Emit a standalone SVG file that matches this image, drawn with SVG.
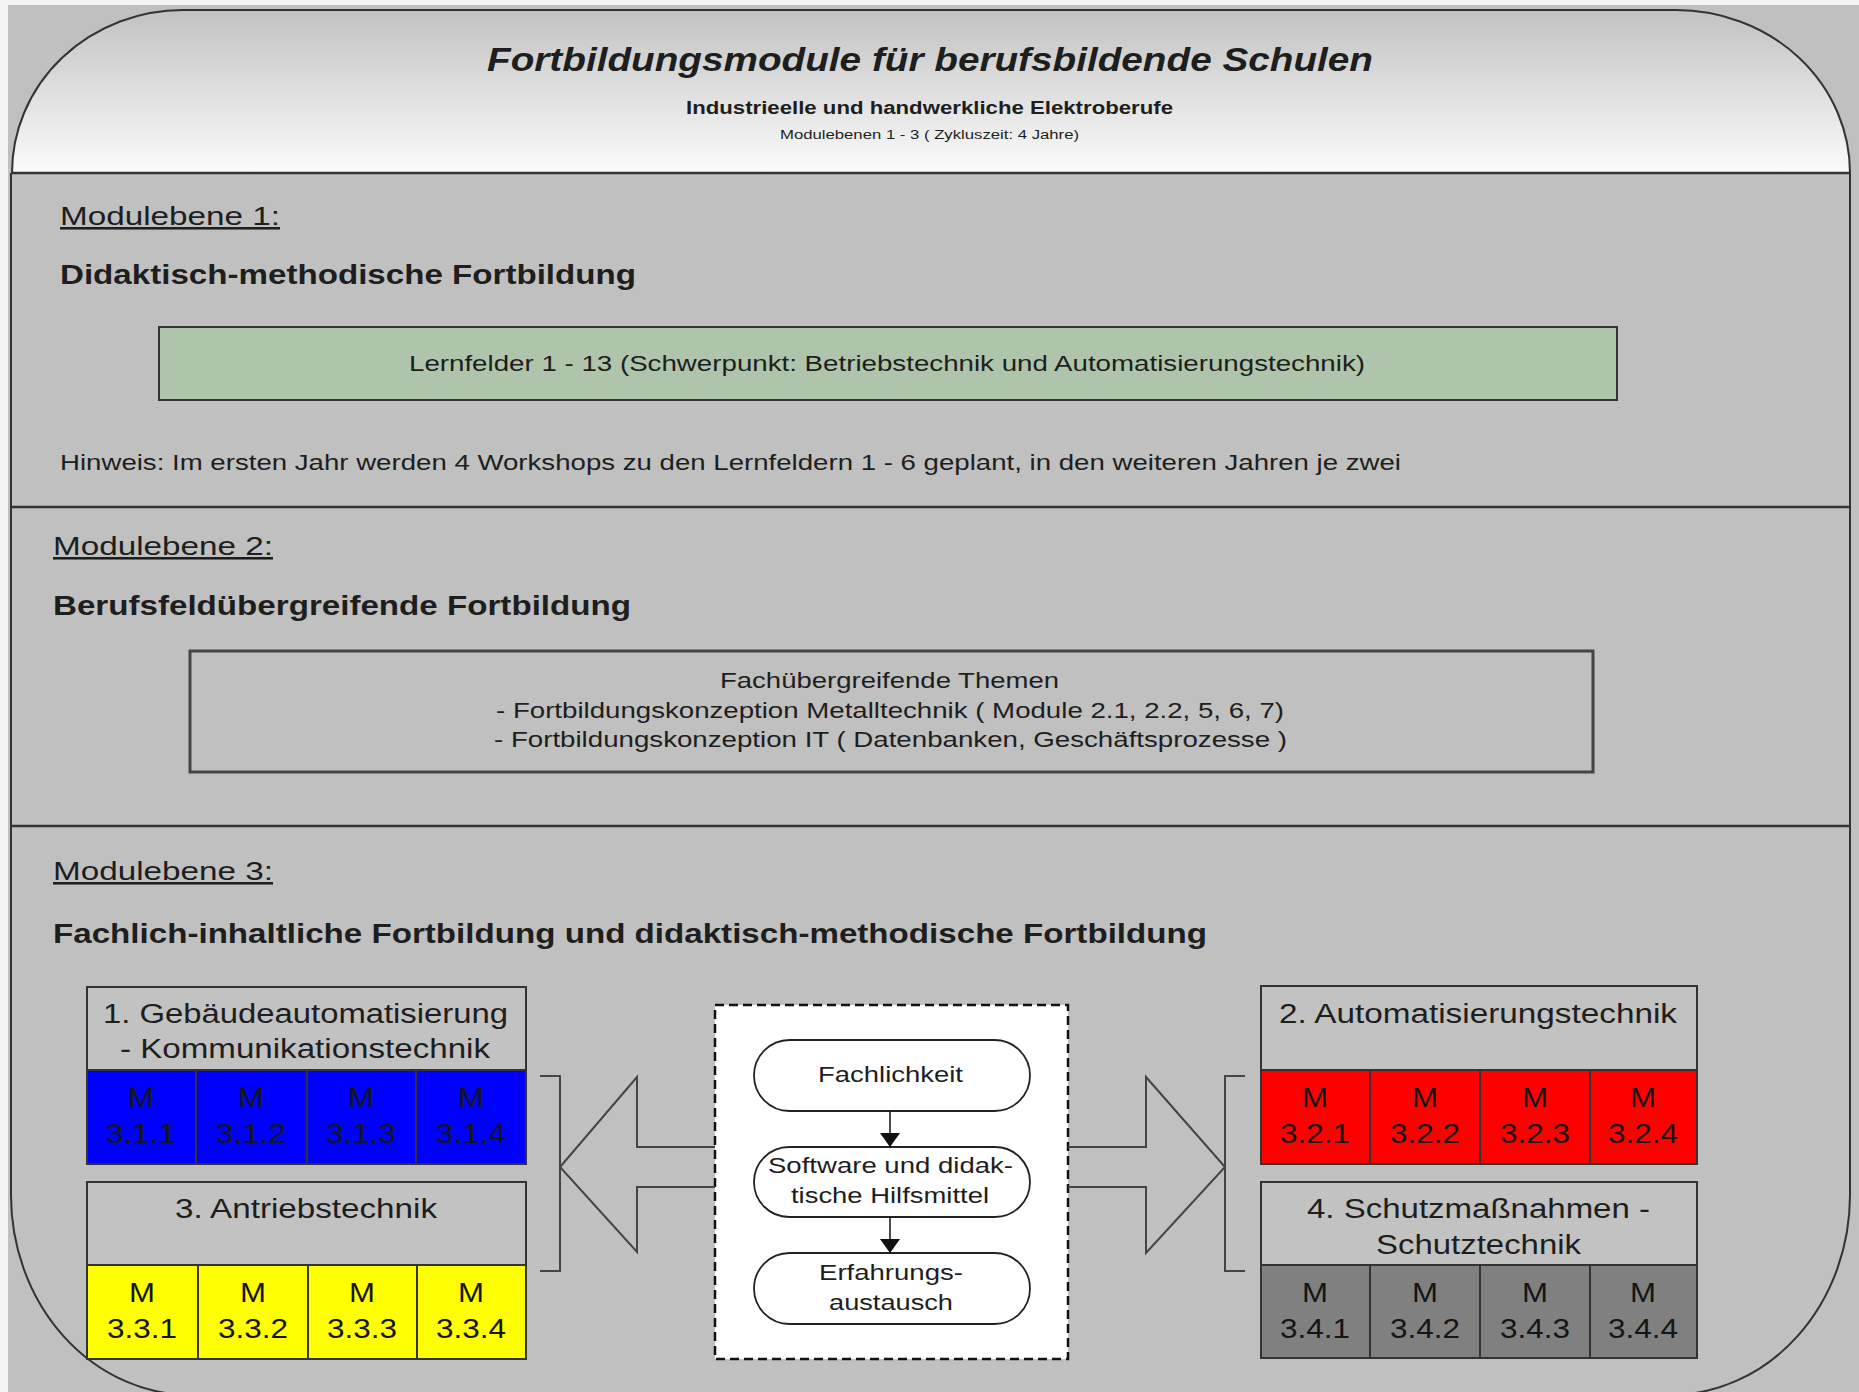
<svg xmlns="http://www.w3.org/2000/svg" width="1859" height="1392" viewBox="0 0 1859 1392">
<defs>
<linearGradient id="hdr" x1="0" y1="0" x2="0" y2="1">
<stop offset="0" stop-color="#c2c2c2"/>
<stop offset="1" stop-color="#fbfbfb"/>
</linearGradient>
<marker id="ah" viewBox="0 0 20 14" refX="20" refY="7" markerWidth="14" markerHeight="20" markerUnits="userSpaceOnUse" orient="auto" preserveAspectRatio="none">
<path d="M0,0 L20,7 L0,14 Z" fill="#111"/>
</marker>
<style>
.t{font-family:"Liberation Sans",Arial,sans-serif;fill:#1e1e1e}
.b{font-weight:bold}
.lbl{font-size:25.5px;text-decoration:underline}
.h{font-size:27px;font-weight:bold}
.cell{font-size:27px;fill:#151515}
.bx{stroke:#333;stroke-width:2}
.div{stroke:#333;stroke-width:2.5}
.arr{fill:none;stroke:#444;stroke-width:2}
.term{fill:#fff;stroke:#222;stroke-width:1.8}
.tt{font-size:21.5px}
</style>
</defs>
<rect x="0" y="0" width="1859" height="1392" fill="#f4f4f4"/>
<rect x="8" y="5" width="1851" height="1387" fill="#c0c0c0"/>

<g id="frame">
<path d="M11,173 V1195 A180,200 0 0 0 191,1395 H1670 A180,200 0 0 0 1850,1195 V173" fill="none" stroke="#333" stroke-width="2"/>
<path d="M12,173 A171,163 0 0 1 183,10 H1676 A174,163 0 0 1 1850,173 Z" fill="url(#hdr)" stroke="#333" stroke-width="2"/>
<line class="div" x1="11" y1="173" x2="1850" y2="173" stroke-width="3"/>
<line class="div" x1="11" y1="507" x2="1850" y2="507"/>
<line class="div" x1="11" y1="826" x2="1850" y2="826"/>
</g>

<g id="header">
<text class="t b" x="487" y="71" font-size="34" font-style="italic" fill="#111" textLength="886" lengthAdjust="spacingAndGlyphs">Fortbildungsmodule für berufsbildende Schulen</text>
<text class="t b" x="686" y="114" font-size="18" textLength="487" lengthAdjust="spacingAndGlyphs">Industrieelle und handwerkliche Elektroberufe</text>
<text class="t" x="780" y="139" font-size="12" fill="#333" textLength="299" lengthAdjust="spacingAndGlyphs">Modulebenen 1 - 3 ( Zykluszeit: 4 Jahre)</text>
</g>

<g id="ebene1">
<text class="t lbl" x="60" y="225" textLength="220" lengthAdjust="spacingAndGlyphs">Modulebene 1:</text>
<text class="t h" x="60" y="284" textLength="576" lengthAdjust="spacingAndGlyphs">Didaktisch-methodische Fortbildung</text>
<g id="lernfelder">
<rect x="159" y="327" width="1458" height="73" fill="#aec5ab" class="bx"/>
<text class="t" x="409" y="371" font-size="22" textLength="956" lengthAdjust="spacingAndGlyphs">Lernfelder 1 - 13 (Schwerpunkt: Betriebstechnik und Automatisierungstechnik)</text>
</g>
<text class="t" x="60" y="470" font-size="22.5" textLength="1341" lengthAdjust="spacingAndGlyphs">Hinweis: Im ersten Jahr werden 4 Workshops zu den Lernfeldern 1 - 6 geplant, in den weiteren Jahren je zwei</text>
</g>

<g id="ebene2">
<text class="t lbl" x="53" y="555" textLength="220" lengthAdjust="spacingAndGlyphs">Modulebene 2:</text>
<text class="t h" x="53" y="615" textLength="578" lengthAdjust="spacingAndGlyphs">Berufsfeldübergreifende Fortbildung</text>
<g id="themen">
<rect x="190" y="651" width="1403" height="121" fill="none" stroke="#444" stroke-width="3"/>
<text class="t" x="720" y="688" font-size="22" textLength="339" lengthAdjust="spacingAndGlyphs">Fachübergreifende Themen</text>
<text class="t" x="496" y="718" font-size="22" textLength="788" lengthAdjust="spacingAndGlyphs">- Fortbildungskonzeption Metalltechnik ( Module 2.1, 2.2, 5, 6, 7)</text>
<text class="t" x="494" y="747" font-size="22" textLength="793" lengthAdjust="spacingAndGlyphs">- Fortbildungskonzeption IT ( Datenbanken, Geschäftsprozesse )</text>
</g>
</g>

<g id="ebene3">
<text class="t lbl" x="53" y="880" textLength="220" lengthAdjust="spacingAndGlyphs">Modulebene 3:</text>
<text class="t h" x="53" y="943" textLength="1154" lengthAdjust="spacingAndGlyphs">Fachlich-inhaltliche Fortbildung und didaktisch-methodische Fortbildung</text>
</g>

<g id="modul1">
<rect x="87" y="987" width="439" height="83" fill="#c2c2c2" class="bx"/>
<rect x="87" y="1070" width="109" height="94" fill="#0000ff" class="bx"/>
<rect x="196" y="1070" width="111" height="94" fill="#0000ff" class="bx"/>
<rect x="307" y="1070" width="109" height="94" fill="#0000ff" class="bx"/>
<rect x="416" y="1070" width="110" height="94" fill="#0000ff" class="bx"/>
<text class="t" x="103" y="1023" font-size="27" textLength="405" lengthAdjust="spacingAndGlyphs">1. Gebäudeautomatisierung</text>
<text class="t" x="120" y="1058" font-size="27" textLength="370" lengthAdjust="spacingAndGlyphs">- Kommunikationstechnik</text>
<text class="t cell" x="128" y="1107" textLength="26" lengthAdjust="spacingAndGlyphs">M</text>
<text class="t cell" x="106" y="1143" textLength="70" lengthAdjust="spacingAndGlyphs">3.1.1</text>
<text class="t cell" x="238" y="1107" textLength="26" lengthAdjust="spacingAndGlyphs">M</text>
<text class="t cell" x="216" y="1143" textLength="70" lengthAdjust="spacingAndGlyphs">3.1.2</text>
<text class="t cell" x="348" y="1107" textLength="26" lengthAdjust="spacingAndGlyphs">M</text>
<text class="t cell" x="326" y="1143" textLength="70" lengthAdjust="spacingAndGlyphs">3.1.3</text>
<text class="t cell" x="458" y="1107" textLength="26" lengthAdjust="spacingAndGlyphs">M</text>
<text class="t cell" x="436" y="1143" textLength="70" lengthAdjust="spacingAndGlyphs">3.1.4</text>
</g>

<g id="modul3">
<rect x="87" y="1182" width="439" height="83" fill="#c2c2c2" class="bx"/>
<rect x="87" y="1265" width="111" height="94" fill="#ffff00" class="bx"/>
<rect x="198" y="1265" width="110" height="94" fill="#ffff00" class="bx"/>
<rect x="308" y="1265" width="109" height="94" fill="#ffff00" class="bx"/>
<rect x="417" y="1265" width="109" height="94" fill="#ffff00" class="bx"/>
<text class="t" x="175" y="1218" font-size="27" textLength="262" lengthAdjust="spacingAndGlyphs">3. Antriebstechnik</text>
<text class="t cell" x="129" y="1302" textLength="26" lengthAdjust="spacingAndGlyphs">M</text>
<text class="t cell" x="107" y="1338" textLength="70" lengthAdjust="spacingAndGlyphs">3.3.1</text>
<text class="t cell" x="240" y="1302" textLength="26" lengthAdjust="spacingAndGlyphs">M</text>
<text class="t cell" x="218" y="1338" textLength="70" lengthAdjust="spacingAndGlyphs">3.3.2</text>
<text class="t cell" x="349" y="1302" textLength="26" lengthAdjust="spacingAndGlyphs">M</text>
<text class="t cell" x="327" y="1338" textLength="70" lengthAdjust="spacingAndGlyphs">3.3.3</text>
<text class="t cell" x="458" y="1302" textLength="26" lengthAdjust="spacingAndGlyphs">M</text>
<text class="t cell" x="436" y="1338" textLength="70" lengthAdjust="spacingAndGlyphs">3.3.4</text>
</g>

<g id="modul2">
<rect x="1261" y="986" width="436" height="84" fill="#c2c2c2" class="bx"/>
<rect x="1261" y="1070" width="109" height="94" fill="#ff0000" class="bx"/>
<rect x="1370" y="1070" width="110" height="94" fill="#ff0000" class="bx"/>
<rect x="1480" y="1070" width="110" height="94" fill="#ff0000" class="bx"/>
<rect x="1590" y="1070" width="107" height="94" fill="#ff0000" class="bx"/>
<text class="t" x="1279" y="1023" font-size="27" textLength="398" lengthAdjust="spacingAndGlyphs">2. Automatisierungstechnik</text>
<text class="t cell" x="1302" y="1107" textLength="26" lengthAdjust="spacingAndGlyphs">M</text>
<text class="t cell" x="1280" y="1143" textLength="70" lengthAdjust="spacingAndGlyphs">3.2.1</text>
<text class="t cell" x="1412" y="1107" textLength="26" lengthAdjust="spacingAndGlyphs">M</text>
<text class="t cell" x="1390" y="1143" textLength="70" lengthAdjust="spacingAndGlyphs">3.2.2</text>
<text class="t cell" x="1522" y="1107" textLength="26" lengthAdjust="spacingAndGlyphs">M</text>
<text class="t cell" x="1500" y="1143" textLength="70" lengthAdjust="spacingAndGlyphs">3.2.3</text>
<text class="t cell" x="1630" y="1107" textLength="26" lengthAdjust="spacingAndGlyphs">M</text>
<text class="t cell" x="1608" y="1143" textLength="70" lengthAdjust="spacingAndGlyphs">3.2.4</text>
</g>

<g id="modul4">
<rect x="1261" y="1182" width="436" height="83" fill="#c2c2c2" class="bx"/>
<rect x="1261" y="1265" width="109" height="93" fill="#808080" class="bx"/>
<rect x="1370" y="1265" width="110" height="93" fill="#808080" class="bx"/>
<rect x="1480" y="1265" width="110" height="93" fill="#808080" class="bx"/>
<rect x="1590" y="1265" width="107" height="93" fill="#808080" class="bx"/>
<text class="t" x="1307" y="1218" font-size="27" textLength="343" lengthAdjust="spacingAndGlyphs">4. Schutzmaßnahmen -</text>
<text class="t" x="1376" y="1254" font-size="27" textLength="205" lengthAdjust="spacingAndGlyphs">Schutztechnik</text>
<text class="t cell" x="1302" y="1302" textLength="26" lengthAdjust="spacingAndGlyphs">M</text>
<text class="t cell" x="1280" y="1338" textLength="70" lengthAdjust="spacingAndGlyphs">3.4.1</text>
<text class="t cell" x="1412" y="1302" textLength="26" lengthAdjust="spacingAndGlyphs">M</text>
<text class="t cell" x="1390" y="1338" textLength="70" lengthAdjust="spacingAndGlyphs">3.4.2</text>
<text class="t cell" x="1522" y="1302" textLength="26" lengthAdjust="spacingAndGlyphs">M</text>
<text class="t cell" x="1500" y="1338" textLength="70" lengthAdjust="spacingAndGlyphs">3.4.3</text>
<text class="t cell" x="1630" y="1302" textLength="26" lengthAdjust="spacingAndGlyphs">M</text>
<text class="t cell" x="1608" y="1338" textLength="70" lengthAdjust="spacingAndGlyphs">3.4.4</text>
</g>

<g id="prozess">
<rect x="715" y="1005" width="353" height="354" fill="#fff" stroke="#111" stroke-width="2.5" stroke-dasharray="9 5"/>
<g id="fachlichkeit">
<rect x="754" y="1040" width="276" height="71" rx="35.5" ry="35.5" class="term"/>
<text class="t tt" x="818" y="1082" textLength="145" lengthAdjust="spacingAndGlyphs">Fachlichkeit</text>
</g>
<g id="software">
<rect x="754" y="1147" width="276" height="70" rx="35" ry="35" class="term"/>
<text class="t tt" x="768" y="1173" textLength="245" lengthAdjust="spacingAndGlyphs">Software und didak-</text>
<text class="t tt" x="791" y="1203" textLength="198" lengthAdjust="spacingAndGlyphs">tische Hilfsmittel</text>
</g>
<g id="erfahrung">
<rect x="754" y="1253" width="276" height="71" rx="35.5" ry="35.5" class="term"/>
<text class="t tt" x="819" y="1280" textLength="144" lengthAdjust="spacingAndGlyphs">Erfahrungs-</text>
<text class="t tt" x="829" y="1310" textLength="124" lengthAdjust="spacingAndGlyphs">austausch</text>
</g>
</g>

<g id="connectors">
<line x1="890" y1="1111" x2="890" y2="1147" stroke="#111" stroke-width="1.5" marker-end="url(#ah)"/>
<line x1="890" y1="1217" x2="890" y2="1253" stroke="#111" stroke-width="1.5" marker-end="url(#ah)"/>
<path class="arr" d="M715,1147 H637 V1077 L560,1167 L637,1252 V1187 H715"/>
<path class="arr" d="M1068,1147 H1146 V1077 L1225,1167 L1146,1253 V1187 H1068"/>
<path class="arr" stroke-width="2.5" d="M540,1076 H560 V1271 H540"/>
<path class="arr" stroke-width="2.5" d="M1245,1076 H1225 V1271 H1245"/>
</g>
</svg>
